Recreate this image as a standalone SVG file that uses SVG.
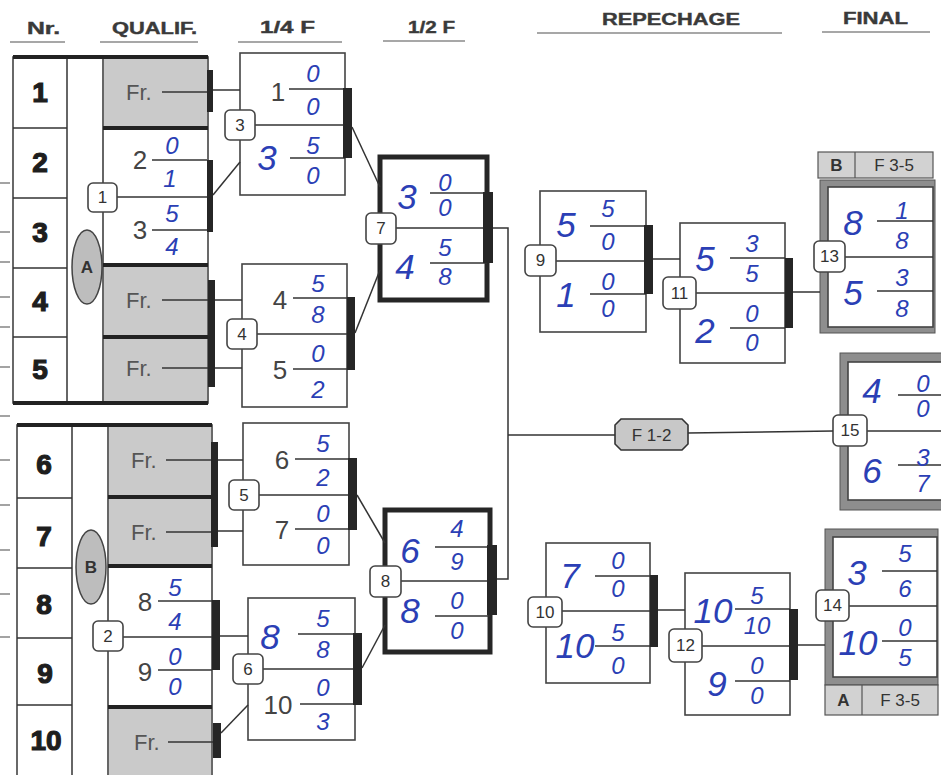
<svg xmlns="http://www.w3.org/2000/svg" width="941" height="775" viewBox="0 0 941 775">
<defs>
<style>
.hdr{font-family:"Liberation Sans",Arial,sans-serif;font-weight:bold;font-size:16px;fill:#3a3a3a;stroke:#3a3a3a;stroke-width:0.4}
.ul{stroke:#8a8a8a;stroke-width:1.5}
.box{fill:#fff;stroke:#444;stroke-width:1.6}
.thk{fill:#fff;stroke:#262626;stroke-width:5}
.gry{fill:#cacaca}
.bar{fill:#262626}
.ln{stroke:#333;stroke-width:1.5;fill:none}
.tl{stroke:#222;stroke-width:4}
.lbl{fill:#fff;stroke:#444;stroke-width:1.6}
.lbt{font-family:"Liberation Sans",Arial,sans-serif;font-size:17px;fill:#333;text-anchor:middle;dominant-baseline:central}
.nr{font-family:"Liberation Sans",Arial,sans-serif;font-weight:bold;font-size:28px;fill:#1e1e1e;stroke:#1e1e1e;stroke-width:1.2;text-anchor:middle;dominant-baseline:central}
.pt{font-family:"Liberation Sans",Arial,sans-serif;font-size:26px;fill:#444;text-anchor:middle;dominant-baseline:central}
.fr{font-family:"Liberation Sans",Arial,sans-serif;font-size:22px;fill:#555;dominant-baseline:central}
.hs{font-family:"Liberation Sans",Arial,sans-serif;font-style:italic;font-size:24px;fill:#2b3fb5;text-anchor:middle;dominant-baseline:central}
.hn{font-family:"Liberation Sans",Arial,sans-serif;font-style:italic;font-size:35px;fill:#2b3fb5;text-anchor:middle;dominant-baseline:central}
.fb{fill:#8e8e8e;stroke:#555;stroke-width:1}
.fh{fill:#d2d2d2;stroke:#555;stroke-width:1.2}
.tick{stroke:#666;stroke-width:1.2}
</style>
</defs>
<rect width="941" height="775" fill="#fff"/>

<g id="headers">
<text class="hdr" x="27" y="34" textLength="33" lengthAdjust="spacingAndGlyphs">Nr.</text>
<line class="ul" x1="10" y1="42" x2="65" y2="42"/>
<text class="hdr" x="112" y="34" textLength="85" lengthAdjust="spacingAndGlyphs">QUALIF.</text>
<line class="ul" x1="100" y1="42" x2="198" y2="42"/>
<text class="hdr" x="260" y="33" textLength="55" lengthAdjust="spacingAndGlyphs">1/4 F</text>
<line class="ul" x1="238" y1="42" x2="342" y2="42"/>
<text class="hdr" x="408" y="33" textLength="47" lengthAdjust="spacingAndGlyphs">1/2 F</text>
<line class="ul" x1="383" y1="41" x2="465" y2="41"/>
<text class="hdr" x="602" y="25" textLength="138" lengthAdjust="spacingAndGlyphs">REPECHAGE</text>
<line class="ul" x1="537" y1="33" x2="782" y2="33"/>
<text class="hdr" x="843" y="24" textLength="65" lengthAdjust="spacingAndGlyphs">FINAL</text>
<line class="ul" x1="822" y1="32" x2="930" y2="32"/>
</g>

<g id="edge-ticks">
<line class="tick" x1="0" y1="183" x2="10" y2="183"/>
<line class="tick" x1="0" y1="232" x2="10" y2="232"/>
<line class="tick" x1="0" y1="262" x2="10" y2="262"/>
<line class="tick" x1="0" y1="297" x2="10" y2="297"/>
<line class="tick" x1="0" y1="327" x2="10" y2="327"/>
<line class="tick" x1="0" y1="367" x2="10" y2="367"/>
<line class="tick" x1="0" y1="416" x2="10" y2="416"/>
<line class="tick" x1="0" y1="460" x2="10" y2="460"/>
<line class="tick" x1="0" y1="505" x2="10" y2="505"/>
<line class="tick" x1="0" y1="550" x2="10" y2="550"/>
<line class="tick" x1="0" y1="594" x2="10" y2="594"/>
<line class="tick" x1="0" y1="637" x2="10" y2="637"/>
</g>

<g id="pool-A">
<rect class="box" x="13" y="57" width="195" height="346"/>
<rect class="gry" x="104" y="59" width="103" height="68"/>
<rect class="gry" x="104" y="267" width="103" height="68"/>
<rect class="gry" x="104" y="339" width="103" height="62"/>
<line class="ln" x1="67" y1="57" x2="67" y2="403"/>
<line class="ln" x1="103" y1="57" x2="103" y2="403"/>
<line class="ln" x1="13" y1="128" x2="67" y2="128"/>
<line class="ln" x1="13" y1="198" x2="67" y2="198"/>
<line class="ln" x1="13" y1="268" x2="67" y2="268"/>
<line class="ln" x1="13" y1="337" x2="67" y2="337"/>
<line class="tl" x1="13" y1="57" x2="208" y2="57"/>
<line class="tl" x1="103" y1="128" x2="208" y2="128"/>
<line class="tl" x1="103" y1="265" x2="208" y2="265"/>
<line class="tl" x1="103" y1="337" x2="208" y2="337"/>
<line class="tl" x1="13" y1="403" x2="208" y2="403"/>
<text class="nr" x="40" y="92">1</text>
<text class="nr" x="40" y="162">2</text>
<text class="nr" x="40" y="232">3</text>
<text class="nr" x="40" y="301">4</text>
<text class="nr" x="40" y="369">5</text>
<ellipse cx="87" cy="267" rx="15" ry="37" fill="#bdbdbd" stroke="#444" stroke-width="1.5"/>
<text class="lbt" x="87" y="267" font-weight="bold" fill="#222">A</text>
<text class="fr" x="126" y="92">Fr.</text>
<line class="ln" x1="162" y1="92" x2="207" y2="92"/>
<rect class="bar" x="207" y="70" width="6" height="42"/>
<text class="fr" x="126" y="300">Fr.</text>
<line class="ln" x1="162" y1="300" x2="208" y2="300"/>
<text class="fr" x="126" y="368">Fr.</text>
<line class="ln" x1="162" y1="368" x2="208" y2="368"/>
<rect class="bar" x="208" y="280" width="7" height="107"/>
</g>

<g id="match-1">
<text class="pt" x="140" y="160">2</text>
<line class="ln" x1="152" y1="160" x2="207" y2="160"/>
<text class="pt" x="140" y="230">3</text>
<line class="ln" x1="152" y1="230" x2="207" y2="230"/>
<line class="ln" x1="117" y1="197" x2="207" y2="197"/>
<rect class="bar" x="207" y="160" width="6" height="72"/>
<rect class="lbl" x="88" y="183" width="29" height="29" rx="5"/>
<text class="lbt" x="102.5" y="197.5">1</text>
<text class="hs" x="172" y="145">0</text>
<text class="hs" x="170" y="178">1</text>
<text class="hs" x="172" y="213">5</text>
<text class="hs" x="172" y="246">4</text>
</g>

<g id="pool-B">
<rect class="box" x="17" y="425" width="195" height="360"/>
<rect class="gry" x="109" y="427" width="102" height="68"/>
<rect class="gry" x="109" y="499" width="102" height="65"/>
<rect class="gry" x="109" y="709" width="102" height="70"/>
<line class="ln" x1="72" y1="425" x2="72" y2="775"/>
<line class="ln" x1="108" y1="425" x2="108" y2="775"/>
<line class="ln" x1="17" y1="498" x2="72" y2="498"/>
<line class="ln" x1="17" y1="568" x2="72" y2="568"/>
<line class="ln" x1="17" y1="638" x2="72" y2="638"/>
<line class="ln" x1="17" y1="705" x2="72" y2="705"/>
<line class="tl" x1="17" y1="425" x2="212" y2="425"/>
<line class="tl" x1="108" y1="497" x2="212" y2="497"/>
<line class="tl" x1="108" y1="566" x2="212" y2="566"/>
<line class="tl" x1="108" y1="707" x2="212" y2="707"/>
<text class="nr" x="44" y="464">6</text>
<text class="nr" x="44" y="536">7</text>
<text class="nr" x="44" y="604">8</text>
<text class="nr" x="45" y="673">9</text>
<text class="nr" x="46" y="740">10</text>
<ellipse cx="91" cy="567" rx="15" ry="37" fill="#bdbdbd" stroke="#444" stroke-width="1.5"/>
<text class="lbt" x="91" y="567" font-weight="bold" fill="#222">B</text>
<text class="fr" x="131" y="460">Fr.</text>
<line class="ln" x1="166" y1="460" x2="211" y2="460"/>
<text class="fr" x="131" y="532">Fr.</text>
<line class="ln" x1="166" y1="532" x2="211" y2="532"/>
<rect class="bar" x="211" y="442" width="7" height="105"/>
<text class="fr" x="134" y="742">Fr.</text>
<line class="ln" x1="168" y1="742" x2="213" y2="742"/>
<rect class="bar" x="213" y="723" width="8" height="35"/>
</g>

<g id="match-2">
<text class="pt" x="145" y="602">8</text>
<line class="ln" x1="158" y1="601" x2="212" y2="601"/>
<text class="pt" x="145" y="672">9</text>
<line class="ln" x1="158" y1="670" x2="212" y2="670"/>
<line class="ln" x1="123" y1="637" x2="212" y2="637"/>
<rect class="bar" x="212" y="600" width="8" height="70"/>
<rect class="lbl" x="93" y="621" width="30" height="30" rx="5"/>
<text class="lbt" x="108" y="636">2</text>
<text class="hs" x="175" y="587">5</text>
<text class="hs" x="175" y="621">4</text>
<text class="hs" x="175" y="656">0</text>
<text class="hs" x="175" y="686">0</text>
</g>

<g id="match-3">
<rect class="box" x="240" y="53" width="105" height="142"/>
<text class="pt" x="278" y="92">1</text>
<line class="ln" x1="289" y1="89" x2="345" y2="89"/>
<text class="hs" x="313" y="73">0</text>
<text class="hs" x="313" y="106">0</text>
<line class="ln" x1="255" y1="125" x2="345" y2="125"/>
<text class="hn" x="267" y="157">3</text>
<line class="ln" x1="290" y1="158" x2="345" y2="158"/>
<text class="hs" x="313" y="145">5</text>
<text class="hs" x="313" y="175">0</text>
<rect class="bar" x="343" y="88" width="9" height="70"/>
<rect class="lbl" x="225" y="110" width="30" height="30" rx="5"/>
<text class="lbt" x="240" y="125">3</text>
</g>

<g id="match-4">
<rect class="box" x="242" y="264" width="105" height="143"/>
<text class="pt" x="280" y="300">4</text>
<line class="ln" x1="293" y1="298" x2="347" y2="298"/>
<text class="hs" x="318" y="283">5</text>
<text class="hs" x="318" y="314">8</text>
<line class="ln" x1="257" y1="334" x2="347" y2="334"/>
<text class="pt" x="280" y="370">5</text>
<line class="ln" x1="293" y1="369" x2="347" y2="369"/>
<text class="hs" x="318" y="353">0</text>
<text class="hs" x="318" y="389">2</text>
<rect class="bar" x="347" y="297" width="8" height="73"/>
<rect class="lbl" x="227" y="319" width="30" height="30" rx="5"/>
<text class="lbt" x="242" y="334">4</text>
</g>

<g id="match-5">
<rect class="box" x="243" y="423" width="106" height="142"/>
<text class="pt" x="282" y="460">6</text>
<line class="ln" x1="295" y1="459" x2="349" y2="459"/>
<text class="hs" x="323" y="443">5</text>
<text class="hs" x="323" y="477">2</text>
<line class="ln" x1="259" y1="495" x2="349" y2="495"/>
<text class="pt" x="282" y="530">7</text>
<line class="ln" x1="295" y1="529" x2="349" y2="529"/>
<text class="hs" x="323" y="513">0</text>
<text class="hs" x="323" y="545">0</text>
<rect class="bar" x="348" y="458" width="9" height="72"/>
<rect class="lbl" x="229" y="480" width="30" height="30" rx="5"/>
<text class="lbt" x="244" y="495">5</text>
</g>

<g id="match-6">
<rect class="box" x="248" y="598" width="107" height="142"/>
<text class="hn" x="270" y="636">8</text>
<line class="ln" x1="298" y1="634" x2="355" y2="634"/>
<text class="hs" x="323" y="618">5</text>
<text class="hs" x="323" y="649">8</text>
<line class="ln" x1="263" y1="669" x2="355" y2="669"/>
<text class="pt" x="278" y="705">10</text>
<line class="ln" x1="300" y1="704" x2="355" y2="704"/>
<text class="hs" x="323" y="687">0</text>
<text class="hs" x="323" y="721">3</text>
<rect class="bar" x="353" y="633" width="9" height="72"/>
<rect class="lbl" x="233" y="654" width="30" height="30" rx="5"/>
<text class="lbt" x="248" y="669">6</text>
</g>

<g id="match-7">
<rect class="thk" x="380" y="157" width="107" height="143"/>
<text class="hn" x="407" y="196">3</text>
<line class="ln" x1="430" y1="193" x2="487" y2="193"/>
<text class="hs" x="445" y="182">0</text>
<text class="hs" x="445" y="207">0</text>
<line class="ln" x1="396" y1="228" x2="487" y2="228"/>
<text class="hn" x="405" y="266">4</text>
<line class="ln" x1="430" y1="263" x2="487" y2="263"/>
<text class="hs" x="445" y="247">5</text>
<text class="hs" x="445" y="276">8</text>
<rect class="bar" x="483" y="192" width="10" height="71"/>
<rect class="lbl" x="366" y="213" width="30" height="31" rx="5"/>
<text class="lbt" x="381" y="228.5">7</text>
</g>

<g id="match-8">
<rect class="thk" x="385" y="510" width="105" height="142"/>
<text class="hn" x="410" y="550">6</text>
<line class="ln" x1="435" y1="547" x2="490" y2="547"/>
<text class="hs" x="457" y="528">4</text>
<text class="hs" x="457" y="561">9</text>
<line class="ln" x1="401" y1="581" x2="490" y2="581"/>
<text class="hn" x="410" y="610">8</text>
<line class="ln" x1="435" y1="616" x2="490" y2="616"/>
<text class="hs" x="457" y="600">0</text>
<text class="hs" x="457" y="630">0</text>
<rect class="bar" x="487" y="545" width="10" height="70"/>
<rect class="lbl" x="370" y="566" width="31" height="31" rx="5"/>
<text class="lbt" x="385.5" y="581.5">8</text>
</g>

<g id="match-9">
<rect class="box" x="540" y="191" width="106" height="141"/>
<text class="hn" x="566" y="224">5</text>
<line class="ln" x1="590" y1="226" x2="646" y2="226"/>
<text class="hs" x="608" y="208">5</text>
<text class="hs" x="608" y="241">0</text>
<line class="ln" x1="556" y1="261" x2="646" y2="261"/>
<text class="hn" x="566" y="294">1</text>
<line class="ln" x1="590" y1="294" x2="646" y2="294"/>
<text class="hs" x="608" y="281">0</text>
<text class="hs" x="608" y="308">0</text>
<rect class="bar" x="644" y="225" width="9" height="69"/>
<rect class="lbl" x="525" y="245" width="31" height="31" rx="5"/>
<text class="lbt" x="540.5" y="260.5">9</text>
</g>

<g id="match-11">
<rect class="box" x="680" y="223" width="105" height="140"/>
<text class="hn" x="705" y="258">5</text>
<line class="ln" x1="730" y1="258" x2="785" y2="258"/>
<text class="hs" x="752" y="243">3</text>
<text class="hs" x="752" y="273">5</text>
<line class="ln" x1="696" y1="293" x2="785" y2="293"/>
<text class="hn" x="705" y="330">2</text>
<line class="ln" x1="730" y1="328" x2="785" y2="328"/>
<text class="hs" x="752" y="313">0</text>
<text class="hs" x="752" y="342">0</text>
<rect class="bar" x="785" y="258" width="8" height="70"/>
<rect class="lbl" x="663" y="277" width="33" height="32" rx="5"/>
<text class="lbt" x="679.5" y="293">11</text>
</g>

<g id="match-10">
<rect class="box" x="546" y="543" width="104" height="140"/>
<text class="hn" x="570" y="575">7</text>
<line class="ln" x1="595" y1="576" x2="650" y2="576"/>
<text class="hs" x="618" y="560">0</text>
<text class="hs" x="618" y="588">0</text>
<line class="ln" x1="562" y1="611" x2="650" y2="611"/>
<text class="hn" x="575" y="645" font-size="31">10</text>
<line class="ln" x1="595" y1="646" x2="650" y2="646"/>
<text class="hs" x="618" y="632">5</text>
<text class="hs" x="618" y="665">0</text>
<rect class="bar" x="650" y="575" width="8" height="72"/>
<rect class="lbl" x="528" y="597" width="34" height="30" rx="5"/>
<text class="lbt" x="545" y="612">10</text>
</g>

<g id="match-12">
<rect class="box" x="685" y="573" width="105" height="142"/>
<text class="hn" x="713" y="610" font-size="31">10</text>
<line class="ln" x1="735" y1="609" x2="790" y2="609"/>
<text class="hs" x="757" y="595">5</text>
<text class="hs" x="757" y="625">10</text>
<line class="ln" x1="702" y1="646" x2="790" y2="646"/>
<text class="hn" x="717" y="683">9</text>
<line class="ln" x1="735" y1="681" x2="790" y2="681"/>
<text class="hs" x="757" y="665">0</text>
<text class="hs" x="757" y="695">0</text>
<rect class="bar" x="789" y="609" width="9" height="71"/>
<rect class="lbl" x="669" y="629" width="33" height="33" rx="5"/>
<text class="lbt" x="685.5" y="645.5">12</text>
</g>

<g id="match-13">
<rect class="fh" x="818" y="152" width="115" height="26"/>
<line stroke="#555" stroke-width="1.2" x1="855" y1="152" x2="855" y2="178"/>
<text class="lbt" x="836.5" y="165" font-weight="bold" fill="#222">B</text>
<text class="lbt" x="894" y="165" fill="#666">F 3-5</text>
<rect class="fb" x="820" y="180" width="115" height="153"/>
<rect class="box" x="828" y="187" width="105" height="140"/>
<text class="hn" x="853" y="222">8</text>
<line class="ln" x1="877" y1="221" x2="933" y2="221"/>
<text class="hs" x="902" y="210">1</text>
<text class="hs" x="902" y="240">8</text>
<line class="ln" x1="845" y1="257" x2="933" y2="257"/>
<text class="hn" x="853" y="292">5</text>
<line class="ln" x1="877" y1="291" x2="933" y2="291"/>
<text class="hs" x="902" y="277">3</text>
<text class="hs" x="902" y="308">8</text>
<rect class="lbl" x="814" y="241" width="31" height="31" rx="5"/>
<text class="lbt" x="829.5" y="256.5">13</text>
</g>

<g id="match-15">
<rect class="fb" x="840" y="353" width="110" height="157"/>
<rect class="box" x="848" y="362" width="100" height="138"/>
<text class="hn" x="872" y="390">4</text>
<line class="ln" x1="898" y1="395" x2="941" y2="395"/>
<text class="hs" x="923" y="383">0</text>
<text class="hs" x="923" y="408">0</text>
<line class="ln" x1="867" y1="431" x2="941" y2="431"/>
<text class="hn" x="872" y="470">6</text>
<line class="ln" x1="898" y1="465" x2="941" y2="465"/>
<text class="hs" x="923" y="457">3</text>
<text class="hs" x="923" y="483">7</text>
<rect class="lbl" x="833" y="415" width="34" height="31" rx="5"/>
<text class="lbt" x="850" y="430.5">15</text>
</g>

<g id="match-14">
<rect class="fb" x="825" y="529" width="113" height="156"/>
<rect class="box" x="833" y="537" width="104" height="140"/>
<text class="hn" x="857" y="572">3</text>
<line class="ln" x1="882" y1="571" x2="937" y2="571"/>
<text class="hs" x="905" y="553">5</text>
<text class="hs" x="905" y="588">6</text>
<line class="ln" x1="849" y1="606" x2="937" y2="606"/>
<text class="hn" x="858" y="642" font-size="31">10</text>
<line class="ln" x1="882" y1="641" x2="937" y2="641"/>
<text class="hs" x="905" y="627">0</text>
<text class="hs" x="905" y="657">5</text>
<rect class="lbl" x="816" y="590" width="33" height="31" rx="5"/>
<text class="lbt" x="832.5" y="605.5">14</text>
<rect class="fh" x="825" y="685" width="113" height="30"/>
<line stroke="#555" stroke-width="1.2" x1="862" y1="685" x2="862" y2="715"/>
<text class="lbt" x="843.5" y="700" font-weight="bold" fill="#222">A</text>
<text class="lbt" x="900" y="700" fill="#666">F 3-5</text>
</g>

<g id="final-1-2-label">
<polygon points="621,419 682,419 688,425 688,444 682,450 621,450 615,444 615,425" fill="#c8c8c8" stroke="#333" stroke-width="1.6"/>
<text class="lbt" x="651.5" y="435" fill="#444" font-size="18">F 1-2</text>
</g>

<g id="connectors">
<line class="ln" x1="213" y1="90" x2="240" y2="90"/>
<line class="ln" x1="213" y1="195" x2="240" y2="162"/>
<line class="ln" x1="215" y1="300" x2="242" y2="300"/>
<line class="ln" x1="215" y1="368" x2="242" y2="368"/>
<line class="ln" x1="352" y1="127" x2="380" y2="187"/>
<line class="ln" x1="355" y1="333" x2="380" y2="270"/>
<line class="ln" x1="218" y1="460" x2="243" y2="460"/>
<line class="ln" x1="218" y1="531" x2="243" y2="531"/>
<line class="ln" x1="220" y1="636" x2="248" y2="636"/>
<line class="ln" x1="221" y1="733" x2="248" y2="705"/>
<line class="ln" x1="357" y1="495" x2="385" y2="543"/>
<line class="ln" x1="362" y1="668" x2="385" y2="625"/>
<polyline class="ln" points="493,228 508,228 508,579 497,579"/>
<line class="ln" x1="508" y1="435" x2="615" y2="435"/>
<line class="ln" x1="688" y1="433" x2="833" y2="431"/>
<line class="ln" x1="653" y1="259" x2="680" y2="259"/>
<line class="ln" x1="793" y1="292" x2="820" y2="292"/>
<line class="ln" x1="658" y1="610" x2="685" y2="610"/>
<line class="ln" x1="798" y1="645" x2="825" y2="645"/>
</g>
</svg>
